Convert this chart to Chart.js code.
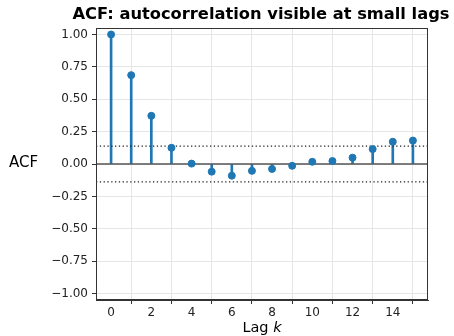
<!DOCTYPE html>
<html>
<head>
<meta charset="utf-8">
<script src="https://cdn.jsdelivr.net/npm/chart.js@4/dist/chart.umd.min.js"></script>
<style>
  html, body { margin:0; padding:0; background:#fff; }
  #wrap { position:relative; width:454px; height:336px; overflow:hidden; font-family:"DejaVu Sans", sans-serif; color:#000; }
  #c { position:absolute; left:0; top:0; }
  .lbl { position:absolute; white-space:nowrap; line-height:1; }
  #title { left:261px; top:6px; transform:translateX(-50%); font-weight:bold; font-size:16.3px; }
  #ylab { left:9px; top:155px; font-size:15px; }
  #xlab { left:262px; top:320px; transform:translateX(-50%); font-size:14.5px; }
</style>
</head>
<body>
<div id="wrap">
  <canvas id="c" width="454" height="336"></canvas>
  <div id="title" class="lbl">ACF: autocorrelation visible at small lags</div>
  <div id="ylab" class="lbl">ACF</div>
  <div id="xlab" class="lbl">Lag <i>k</i></div>
</div>
<script>
// ---- data ----
const lags = [0, 1, 2, 3, 4, 5, 6, 7, 8, 9, 10, 11, 12, 13, 14, 15];
const acfValues = [1.0, 0.686, 0.372, 0.125, 0.003, -0.059, -0.090, -0.053, -0.038, -0.014, 0.017, 0.023, 0.049, 0.115, 0.172, 0.181];
const confBound = 0.1386;
const xTicks = [0, 2, 4, 6, 8, 10, 12, 14];
const yTicks = [-1.0, -0.75, -0.5, -0.25, 0.0, 0.25, 0.5, 0.75, 1.0];
const xRange = [-0.75, 15.75];
const yRange = [-1.05, 1.05];

const blue = '#1f77b4';
const points = lags.map((k, i) => ({ x: k, y: acfValues[i] }));

const framePlugin = {
  id: 'frame',
  afterDraw(chart) {
    const a = chart.chartArea, ctx = chart.ctx;
    ctx.save();
    ctx.strokeStyle = '#333';
    ctx.lineWidth = 1;
    ctx.strokeRect(Math.round(a.left) + 0.5, Math.round(a.top) + 0.5, Math.round(a.right - a.left) - 1, Math.round(a.bottom - a.top) - 1);
    ctx.restore();
  }
};

new Chart(document.getElementById('c'), {
  type: 'bar',
  data: {
    datasets: [
      {
        type: 'scatter',
        label: 'markers',
        data: points,
        backgroundColor: blue,
        borderColor: blue,
        pointRadius: 3.5,
        pointHoverRadius: 3.5,
        order: 0
      },
      {
        type: 'line',
        label: 'baseline',
        data: [{ x: xRange[0], y: 0 }, { x: xRange[1], y: 0 }],
        borderColor: '#555',
        borderWidth: 1.5,
        pointRadius: 0,
        order: 1
      },
      {
        type: 'line',
        label: 'upper',
        data: [{ x: xRange[0], y: confBound }, { x: xRange[1], y: confBound }],
        borderColor: '#222',
        borderWidth: 1.3,
        borderDash: [1.3, 2.5],
        pointRadius: 0,
        order: 1
      },
      {
        type: 'line',
        label: 'lower',
        data: [{ x: xRange[0], y: -confBound }, { x: xRange[1], y: -confBound }],
        borderColor: '#222',
        borderWidth: 1.3,
        borderDash: [1.3, 2.5],
        pointRadius: 0,
        order: 1
      },
      {
        type: 'bar',
        label: 'stems',
        data: points,
        backgroundColor: blue,
        borderWidth: 0,
        barThickness: 2,
        order: 2
      }
    ]
  },
  options: {
    responsive: false,
    animation: false,
    events: [],
    layout: { padding: { top: 28, right: 26, bottom: 0, left: 0 } },
    plugins: { legend: { display: false }, tooltip: { enabled: false }, title: { display: false } },
    scales: {
      x: {
        type: 'linear',
        min: xRange[0],
        max: xRange[1],
        offset: false,
        afterBuildTicks: s => { s.ticks = xTicks.map(v => ({ value: v })); },
        afterFit: s => { s.height = 36; },
        ticks: {
          color: '#222',
          font: { family: 'DejaVu Sans', size: 12 },
          padding: 2,
          maxRotation: 0,
          callback: v => String(v)
        },
        grid: { color: '#e6e6e6', lineWidth: 1, tickColor: '#333', tickLength: 4, drawTicks: true },
        border: { display: true, color: '#333', width: 1 }
      },
      y: {
        type: 'linear',
        min: yRange[0],
        max: yRange[1],
        afterBuildTicks: s => { s.ticks = yTicks.map(v => ({ value: v })); },
        afterFit: s => { s.width = 96; },
        ticks: {
          color: '#222',
          font: { family: 'DejaVu Sans', size: 12 },
          padding: 4,
          callback: v => v.toFixed(2).replace('-', '\u2212')
        },
        grid: { color: '#e6e6e6', lineWidth: 1, tickColor: '#333', tickLength: 4, drawTicks: true },
        border: { display: true, color: '#333', width: 1 }
      }
    }
  },
  plugins: [framePlugin]
});
</script>
</body>
</html>
